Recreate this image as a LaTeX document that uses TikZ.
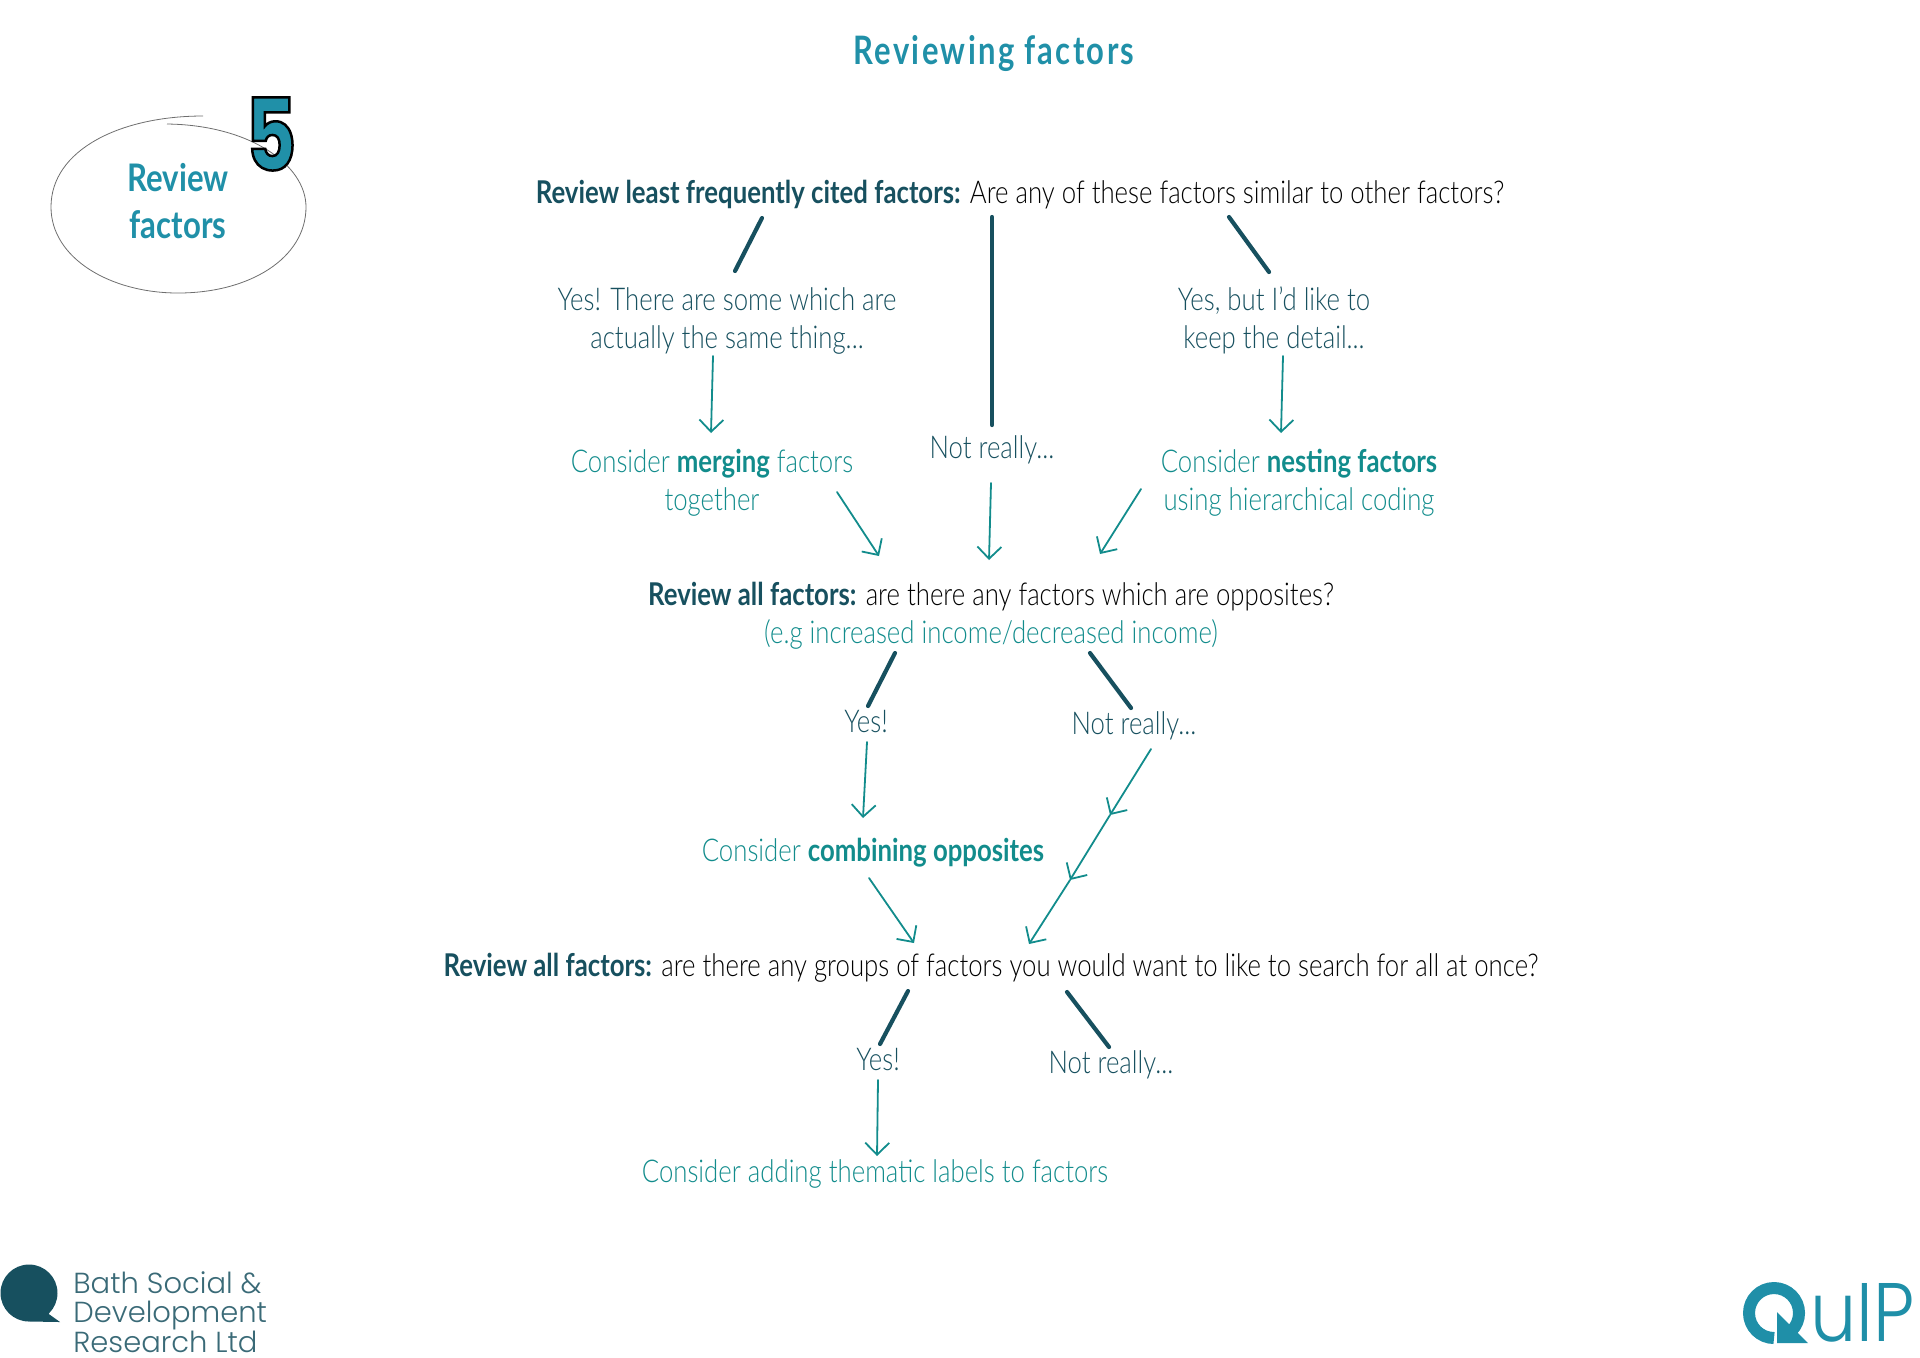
\documentclass[tikz,border=0pt]{standalone}
\usepackage{fontspec}
\usepackage{xcolor}
\usetikzlibrary{arrows.meta}
\setmainfont[FakeStretch=0.82,BoldFont={Lato Bold}]{Lato Light}
\newfontfamily\logofont{Poppins Light}
\newfontfamily\quipfont[FakeStretch=0.88]{Poppins Light}
\newfontfamily\digitfont[FakeBold=2.5,FakeStretch=0.78]{Poppins Bold}
\newfontfamily\titlefont[FakeStretch=0.79,LetterSpace=6]{Lato Bold}
\definecolor{quipDark}{HTML}{17505F}
\definecolor{quipTeal}{HTML}{128C8C}
\definecolor{quipBlue}{HTML}{2090A8}
\definecolor{quipLogo}{HTML}{1F8FA8}
\definecolor{quipGrey}{HTML}{6E6E6E}
\tikzset{
  quip/text/.style     = {inner sep=0pt, align=center, text height=13pt, text depth=3pt,
                          font=\fontsize{15.7}{19}\selectfont},
  quip/two/.style      = {text height=32pt},
  quip/question/.style = {quip/text, text=black},
  quip/answer/.style   = {quip/text, text=quipDark},
  quip/action/.style   = {quip/text, text=quipTeal},
  quip/title/.style    = {quip/text, text=quipBlue, font=\titlefont\fontsize{19.6}{19}\selectfont},
  quip/stage/.style    = {quip/text, text=quipBlue, font=\fontsize{19}{23.5}\selectfont},
  quip/branch/.style   = {draw=quipDark, line width=2.1pt, line cap=round},
  quip/arrow/.style    = {draw=quipTeal, line width=0.9pt, line cap=round,
                          -{Straight Barb[length=6pt,width=12pt]}},
  quip/logo/.style     = {inner sep=0pt, text depth=0pt, align=left,
                          font=\logofont\fontsize{14.5}{14.6}\selectfont, text=quipDark!85},
}
\newcommand{\lead}[1]{{\bfseries\color{quipDark}#1}}
\begin{document}
\begin{tikzpicture}[x=0.5pt, y=-0.5pt]
      \useasboundingbox (0,0) rectangle (1920,1357);
      \node[quip/title] (title) at (994,54) {Reviewing factors};
      % stage badge
      \draw[quipGrey, line width=0.4pt] (203,116) .. controls (120,116) and (51,150) .. (51,207)
            .. controls (51,258) and (110,293) .. (178,293)
            .. controls (250,293) and (306,258) .. (306,207)
            .. controls (306,165) and (250,125) .. (167,124);
      \node[quip/stage] (stage) at (178,228) {\bfseries Review\\\bfseries factors};
      \node[inner sep=0pt, text=quipBlue, font=\digitfont\fontsize{50}{50}\selectfont] (five) at (271,134)
            {\special{pdf:code 0 0 0 RG}5};
      % first question
      \node[quip/question] (q1) at (1020,193)
            {\lead{Review least frequently cited factors:} Are any of these factors similar to other factors?};
      \node[quip/answer, quip/two] (yes1) at (727,319) {Yes! There are some which are\\actually the same thing...};
      \node[quip/answer] (notreal1) at (992,448) {Not really...};
      \node[quip/answer, quip/two] (yes2) at (1274,319) {Yes, but I'd like to\\keep the detail...};
      \node[quip/action, quip/two] (merge) at (712,481) {Consider \textbf{merging} factors\\together};
      \node[quip/action, quip/two] (nest) at (1299,481) {Consider \textbf{nesting factors}\\using hierarchical coding};
      % second question
      \node[quip/question, quip/two] (all1) at (991,614)
            {\lead{Review all factors:} are there any factors which are opposites?\\
             \textcolor{quipTeal}{(e.g increased income/decreased income)}};
      \node[quip/answer] (yes3) at (866,722) {Yes!};
      \node[quip/answer] (notreal2) at (1134,724) {Not really...};
      \node[quip/action] (combine) at (873,851) {Consider \textbf{combining opposites}};
      % third question
      \node[quip/question] (all2) at (991,966)
            {\lead{Review all factors:} are there any groups of factors you would want to like to search for all at once?};
      \node[quip/answer] (yes4) at (878,1060) {Yes!};
      \node[quip/answer] (notreal3) at (1111,1063) {Not really...};
      \node[quip/action] (labels) at (875,1172) {Consider adding thematic labels to factors};
      \coordinate (mid1) at (1110,815);
      \coordinate (mid2) at (1070,880);
      % branches
      \draw[quip/branch] ([shift={(-258,25)}]q1.center) -- ([shift={(8,-48)}]yes1.center);
      \draw[quip/branch] ([shift={(-28,24)}]q1.center) -- ([shift={(0,-23)}]notreal1.center);
      \draw[quip/branch] ([shift={(209,24)}]q1.center) -- ([shift={(-5,-47)}]yes2.center);
      \draw[quip/branch] ([shift={(-96,39)}]all1.center) -- ([shift={(2,-16)}]yes3.center);
      \draw[quip/branch] ([shift={(99,39)}]all1.center) -- ([shift={(-3,-16)}]notreal2.center);
      \draw[quip/branch] ([shift={(-83,25)}]all2.center) -- ([shift={(2,-16)}]yes4.center);
      \draw[quip/branch] ([shift={(76,26)}]all2.center) -- ([shift={(-2,-16)}]notreal3.center);
      % arrows
      \draw[quip/arrow] ([shift={(-14,37)}]yes1.center) -- ([shift={(-1,-48)}]merge.center);
      \draw[quip/arrow] ([shift={(9,37)}]yes2.center) -- ([shift={(-18,-48)}]nest.center);
      \draw[quip/arrow] ([shift={(125,11)}]merge.center) -- ([shift={(-112,-58)}]all1.center);
      \draw[quip/arrow] ([shift={(-1,35)}]notreal1.center) -- ([shift={(-2,-54)}]all1.center);
      \draw[quip/arrow] ([shift={(-158,8)}]nest.center) -- ([shift={(109,-60)}]all1.center);
      \draw[quip/arrow] ([shift={(1,20)}]yes3.center) -- ([shift={(-10,-33)}]combine.center);
      \draw[quip/arrow] ([shift={(-4,27)}]combine.center) -- ([shift={(-77,-23)}]all2.center);
      \draw[quip/arrow] ([shift={(17,25)}]notreal2.center) -- (mid1);
      \draw[quip/arrow] (mid1) -- (mid2);
      \draw[quip/arrow] (mid2) -- ([shift={(38,-22)}]all2.center);
      \draw[quip/arrow] ([shift={(0,20)}]yes4.center) -- ([shift={(2,-16)}]labels.center);
      % logos
      \fill[quipDark] (29,1293) circle[radius=28.5] (46,1312) -- (60,1322) -- (30,1321.5) -- cycle;
      \node[quip/logo, anchor=base west] (bath) at (73,1352) {Bath Social \&\\Development\\Research Ltd};
      \draw[quipLogo, line width=6pt] (1774,1338) arc[start angle=90, end angle=405, radius=25];
      \fill[quipLogo] (1777,1312) -- (1777,1343) -- (1808,1343) -- cycle;
      \node[inner sep=0pt, anchor=base west, text depth=0pt, text=quipLogo, font=\quipfont\fontsize{41.5}{42}\selectfont] (quip) at (1810,1341) {uIP};
    \end{tikzpicture}
\end{document}
